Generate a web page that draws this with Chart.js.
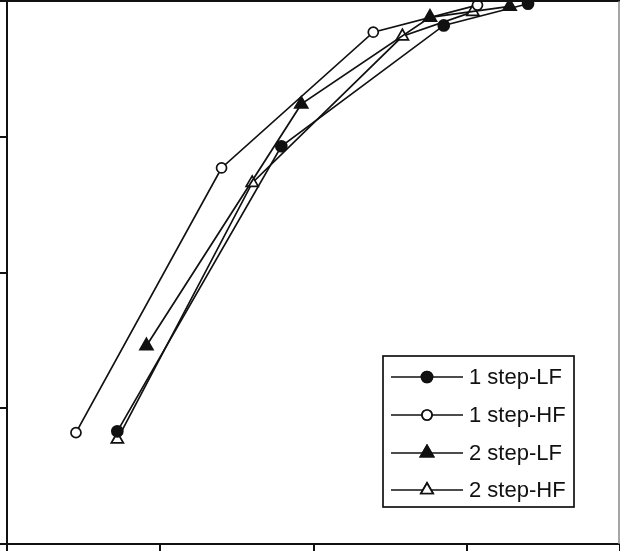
<!DOCTYPE html>
<html>
<head>
<meta charset="utf-8">
<script src="https://cdn.jsdelivr.net/npm/chart.js@4.4.1/dist/chart.umd.min.js"></script>
<style>
  html, body { margin: 0; padding: 0; background: #fff; }
  #wrap { width: 620px; height: 551px; }
</style>
</head>
<body>
<div id="wrap"><canvas id="chart" width="620" height="551"></canvas></div>
<script>
// Series data (axis units, no tick labels in the figure)
var labels = ["1 step-LF", "1 step-HF", "2 step-LF", "2 step-HF"];

var oneStepLF_x = [0.72, 1.79, 2.85, 3.40];
var oneStepLF_y = [0.83, 2.93, 3.82, 3.98];

var oneStepHF_x = [0.45, 1.40, 2.39, 3.07];
var oneStepHF_y = [0.82, 2.77, 3.77, 3.97];

var twoStepLF_x = [0.91, 1.92, 2.76, 3.28];
var twoStepLF_y = [1.46, 3.24, 3.88, 3.96];

var twoStepHF_x = [0.72, 1.60, 2.58, 3.04];
var twoStepHF_y = [0.77, 2.66, 3.74, 3.92];

var axisMin = 0, axisMax = 4, axisStep = 1;

function toPoints(xs, ys) {
    return xs.map(function (x, i) { return { x: x, y: ys[i] }; });
}

function series(label, xs, ys, style, radius, fill) {
    return {
        label: label,
        data: toPoints(xs, ys),
        borderColor: "#111",
        borderWidth: 1.7,
        pointStyle: style,
        pointRadius: radius,
        pointHoverRadius: radius,
        pointBackgroundColor: fill,
        pointBorderColor: "#111",
        pointBorderWidth: 1.7,
        fill: false,
        tension: 0,
        clip: 12
    };
}

// Legend box inside the plot, plus top frame line
var framePlugin = {
    id: "frame",
    afterDraw: function (chart) {
        var ctx = chart.ctx;
        var area = chart.chartArea;
        ctx.save();
        ctx.strokeStyle = "#111";
        ctx.lineWidth = 2;
        ctx.beginPath();
        ctx.moveTo(area.left, area.top);
        ctx.lineTo(area.right, area.top);
        ctx.stroke();
        ctx.strokeStyle = "#888";
        ctx.lineWidth = 1.5;
        ctx.beginPath();
        ctx.moveTo(619, area.top);
        ctx.lineTo(619, area.bottom);
        ctx.stroke();

        // legend
        var bx = 383, by = 356, bw = 191, bh = 151;
        ctx.fillStyle = "#fff";
        ctx.fillRect(bx, by, bw, bh);
        ctx.strokeStyle = "#111";
        ctx.lineWidth = 1.7;
        ctx.strokeRect(bx, by, bw, bh);
        var rows = [377, 415, 453, 490];
        ctx.font = "22px 'Liberation Sans', Arial, sans-serif";
        ctx.textBaseline = "middle";
        chart.data.datasets.forEach(function (ds, i) {
            var y = rows[i];
            ctx.strokeStyle = "#111";
            ctx.lineWidth = 1.7;
            ctx.beginPath();
            ctx.moveTo(391, y);
            ctx.lineTo(463, y);
            ctx.stroke();
            Chart.helpers.drawPoint(ctx, {
                pointStyle: ds.pointStyle,
                radius: ds.pointRadius,
                borderWidth: 1.7,
                rotation: 0
            }, 427, y);
            ctx.fillStyle = ds.pointBackgroundColor;
            ctx.strokeStyle = "#111";
            ctx.lineWidth = 1.7;
            ctx.fill();
            ctx.stroke();
            ctx.fillStyle = "#111";
            ctx.fillText(ds.label, 469, y + 1);
        });
        ctx.restore();
    }
};

var axisOpts = {
    type: "linear",
    min: axisMin,
    max: axisMax,
    ticks: { display: false, stepSize: axisStep },
    grid: {
        drawOnChartArea: false,
        drawTicks: true,
        tickLength: 7,
        color: "#111",
        lineWidth: 2
    },
    border: { display: true, color: "#111", width: 2 }
};

var ctx = document.getElementById("chart").getContext("2d");
var myChart = new Chart(ctx, {
    type: "line",
    data: {
        datasets: [
            series(labels[0], oneStepLF_x, oneStepLF_y, "circle", 5.5, "#111"),
            series(labels[1], oneStepHF_x, oneStepHF_y, "circle", 5, "#fff"),
            series(labels[2], twoStepLF_x, twoStepLF_y, "triangle", 7.5, "#111"),
            series(labels[3], twoStepHF_x, twoStepHF_y, "triangle", 7, "#fff")
        ]
    },
    options: {
        responsive: false,
        animation: false,
        devicePixelRatio: 1,
        layout: { autoPadding: false, padding: { top: 1, right: 0, left: 0, bottom: 0 } },
        plugins: {
            legend: { display: false },
            tooltip: { enabled: false }
        },
        scales: {
            x: axisOpts,
            y: axisOpts
        }
    },
    plugins: [framePlugin]
});
</script>
</body>
</html>
